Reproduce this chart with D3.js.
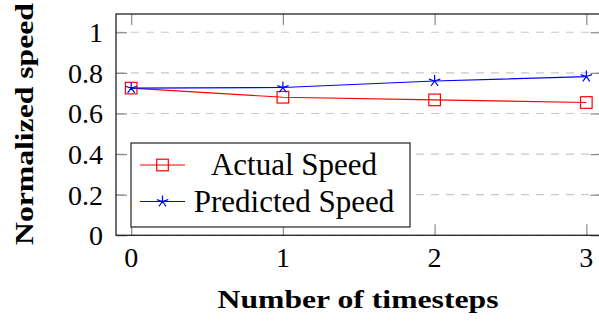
<!DOCTYPE html>
<html>
<head>
<meta charset="utf-8">
<script src="https://cdn.jsdelivr.net/npm/d3@7/dist/d3.min.js"></script>
<style>
  html, body { margin: 0; padding: 0; background: #fff; }
  svg { display: block; }
</style>
</head>
<body>
<svg id="chart" width="599" height="321"></svg>
<script>
// Timestep index on the x axis
const timesteps = [0, 1, 2, 3];
// Normalized speed per timestep
const actualSpeed = [0.725, 0.680, 0.667, 0.654];
const predictedSpeed = [0.725, 0.728, 0.760, 0.782];
// Axis ticks
const yTicks = [0, 0.2, 0.4, 0.6, 0.8, 1];
const yTickLabels = ["0", "0.2", "0.4", "0.6", "0.8", "1"];
const xTickLabels = ["0", "1", "2", "3"];
const seriesNames = ["Actual Speed", "Predicted Speed"];

const FONT = "'Liberation Serif', 'Times New Roman', Times, 'DejaVu Serif', serif";

const svg = d3.select("#chart");
const plot = { left: 116, right: 601.5, top: 14, bottom: 235.3 };

const x = d3.scaleLinear().domain([-0.1, 3.1]).range([plot.left, plot.right]);
const y = d3.scaleLinear().domain([0, 1.09]).range([plot.bottom, plot.top]);

// Horizontal dashed grid
svg.append("g").selectAll("line").data(yTicks).join("line")
  .attr("x1", plot.left).attr("x2", plot.right)
  .attr("y1", d => y(d)).attr("y2", d => y(d))
  .attr("stroke", "#c8c8c8").attr("stroke-width", 1.2)
  .attr("stroke-dasharray", "8,7");

// Axes with inward ticks on all four sides
const tickLen = 11;
const leftAxis = d3.axisLeft(y).tickValues(yTicks).tickSizeInner(-tickLen).tickSizeOuter(0).tickFormat("");
const rightAxis = d3.axisRight(y).tickValues(yTicks).tickSizeInner(-tickLen).tickSizeOuter(0).tickFormat("");
const bottomAxis = d3.axisBottom(x).tickValues(timesteps).tickSizeInner(-tickLen).tickSizeOuter(0).tickFormat("");
const topAxis = d3.axisTop(x).tickValues(timesteps).tickSizeInner(-tickLen).tickSizeOuter(0).tickFormat("");

function styleAxis(g) {
  g.select(".domain").remove();
  g.selectAll(".tick line").attr("stroke", "#8a8a8a").attr("stroke-width", 1.2);
}
svg.append("g").attr("transform", `translate(${plot.left},0)`).call(leftAxis).call(styleAxis);
svg.append("g").attr("transform", `translate(${plot.right},0)`).call(rightAxis).call(styleAxis);
svg.append("g").attr("transform", `translate(0,${plot.bottom})`).call(bottomAxis).call(styleAxis);
svg.append("g").attr("transform", `translate(0,${plot.top})`).call(topAxis).call(styleAxis);

// Frame
svg.append("rect")
  .attr("x", plot.left).attr("y", plot.top)
  .attr("width", plot.right - plot.left).attr("height", plot.bottom - plot.top)
  .attr("fill", "none").attr("stroke", "#222").attr("stroke-width", 1.3);

// Tick labels
svg.append("g").selectAll("text").data(yTicks).join("text")
  .attr("x", 103).attr("y", d => y(d) + 10)
  .attr("text-anchor", "end").attr("font-size", 28).style("font-family", FONT)
  .text((d, i) => yTickLabels[i]);
svg.append("g").selectAll("text").data(timesteps).join("text")
  .attr("x", d => x(d)).attr("y", 267)
  .attr("text-anchor", "middle").attr("font-size", 28).style("font-family", FONT)
  .text((d, i) => xTickLabels[i]);

// Axis titles
svg.append("text")
  .attr("x", 358).attr("y", 308)
  .attr("text-anchor", "middle").attr("font-size", 26).attr("font-weight", "bold")
  .style("font-family", FONT)
  .attr("textLength", 281).attr("lengthAdjust", "spacingAndGlyphs")
  .text("Number of timesteps");
svg.append("text")
  .attr("transform", "translate(33,124) rotate(-90)")
  .attr("text-anchor", "middle").attr("font-size", 26).attr("font-weight", "bold")
  .style("font-family", FONT)
  .attr("textLength", 242).attr("lengthAdjust", "spacingAndGlyphs")
  .text("Normalized speed");

// Markers
const starPath = r => {
  let p = "";
  for (let k = 0; k < 5; k++) {
    const a = -Math.PI / 2 + k * 2 * Math.PI / 5;
    p += `M0,0L${(r * Math.cos(a)).toFixed(2)},${(r * Math.sin(a)).toFixed(2)}`;
  }
  return p;
};
function drawSquare(g, cx, cy) {
  g.append("rect").attr("x", cx - 5.8).attr("y", cy - 5.8).attr("width", 11.6).attr("height", 11.6)
    .attr("fill", "none").attr("stroke", "#ff0000").attr("stroke-width", 1.2);
}
function drawStar(g, cx, cy) {
  g.append("path").attr("d", starPath(6)).attr("transform", `translate(${cx},${cy})`)
    .attr("fill", "none").attr("stroke", "#0000ff").attr("stroke-width", 1.2);
}

const line = d3.line().x((d, i) => x(timesteps[i])).y(d => y(d));

const gA = svg.append("g");
gA.append("path").datum(actualSpeed).attr("d", line)
  .attr("fill", "none").attr("stroke", "#ff0000").attr("stroke-width", 1.2);
actualSpeed.forEach((v, i) => drawSquare(gA, x(timesteps[i]), y(v)));

const gP = svg.append("g");
gP.append("path").datum(predictedSpeed).attr("d", line)
  .attr("fill", "none").attr("stroke", "#0000ff").attr("stroke-width", 1.2);
predictedSpeed.forEach((v, i) => drawStar(gP, x(timesteps[i]), y(v)));

// Legend
const lg = svg.append("g");
lg.append("rect").attr("x", 131).attr("y", 143).attr("width", 279).attr("height", 84)
  .attr("fill", "#fff").attr("stroke", "#222").attr("stroke-width", 1.2);
const rows = [165, 201.5];
rows.forEach((ry, i) => {
  const col = i === 0 ? "#ff0000" : "#0000ff";
  lg.append("line").attr("x1", 140).attr("x2", 185).attr("y1", ry).attr("y2", ry)
    .attr("stroke", col).attr("stroke-width", 1.2);
  if (i === 0) drawSquare(lg, 162.5, ry); else drawStar(lg, 162.5, ry);
  lg.append("text").attr("x", 294).attr("y", ry + 10)
    .attr("text-anchor", "middle").attr("font-size", 31).style("font-family", FONT)
    .text(seriesNames[i]);
});
</script>
</body>
</html>
